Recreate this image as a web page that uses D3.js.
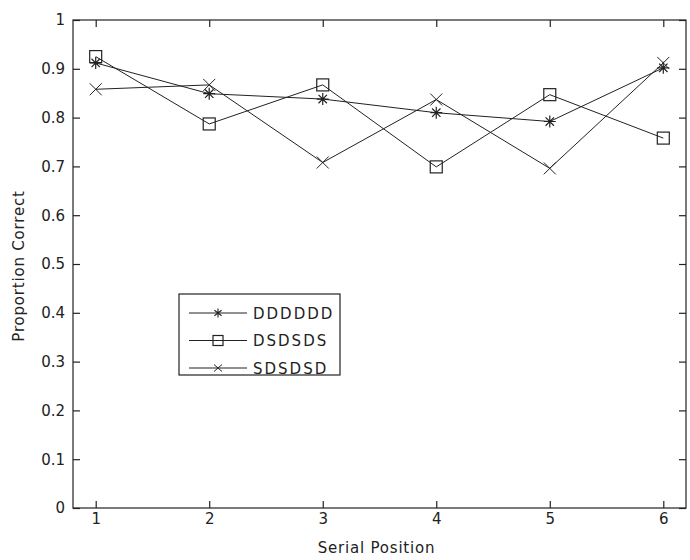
<!DOCTYPE html><html><head><meta charset="utf-8">
<script src="https://cdn.jsdelivr.net/npm/d3@7"></script>
<style>
body { margin: 0; background: #fff; }
text { font-family: "DejaVu Sans", "Liberation Sans", Arial, sans-serif; fill: #222; }
</style>
</head><body>
<div id="chart"></div>
<script>
// data
const positions = [1, 2, 3, 4, 5, 6];
const dddddd = [0.912, 0.849, 0.838, 0.810, 0.792, 0.902];
const dsdsds = [0.925, 0.787, 0.867, 0.699, 0.847, 0.758];
const sdsdsd = [0.858, 0.867, 0.708, 0.837, 0.696, 0.912];
const seriesNames = ["DDDDDD", "DSDSDS", "SDSDSD"];
const markerKinds = ["star", "square", "cross"];
const yTicks = [0, 0.1, 0.2, 0.3, 0.4, 0.5, 0.6, 0.7, 0.8, 0.9, 1];

const W = 690, H = 560;
const margin = { top: 20, right: 4, bottom: 52, left: 73 };
const width = W - margin.left - margin.right;
const height = H - margin.top - margin.bottom;

const svg = d3.select("#chart").append("svg")
	.attr("width", W).attr("height", H)
	.append("g")
	.attr("transform", `translate(${margin.left}, ${margin.top})`);

const x = d3.scaleLinear().domain([0.8, 6.2]).range([0, width]);
const y = d3.scaleLinear().domain([0, 1]).range([height, 0]);

const ink = "#222";

// box
svg.append("rect").attr("width", width).attr("height", height)
	.attr("fill", "none").attr("stroke", ink).attr("stroke-width", 1.2);

// axes, ticks pointing inward
const fmt = d => d === 0 ? "0" : d === 1 ? "1" : d3.format(".1f")(d);
const styleAxis = g => {
	g.select(".domain").remove();
	g.selectAll("line").attr("stroke", ink).attr("stroke-width", 1.2);
	g.selectAll("text").style("font-size", "15px");
};
svg.append("g").attr("transform", `translate(0, ${height})`)
	.call(d3.axisBottom(x).tickValues(positions).tickSizeInner(-7).tickPadding(5).tickFormat(d3.format("d")))
	.call(styleAxis);
svg.append("g")
	.call(d3.axisTop(x).tickValues(positions).tickSizeInner(-7).tickFormat(""))
	.call(styleAxis);
svg.append("g")
	.call(d3.axisLeft(y).tickValues(yTicks).tickSizeInner(-7).tickPadding(8).tickFormat(fmt))
	.call(styleAxis);
svg.append("g").attr("transform", `translate(${width}, 0)`)
	.call(d3.axisRight(y).tickValues(yTicks).tickSizeInner(-7).tickFormat(""))
	.call(styleAxis);

// axis labels
svg.append("text").attr("x", width / 2 - 3).attr("y", height + 45)
	.attr("text-anchor", "middle").style("font-size", "15px").style("letter-spacing", "0.8px")
	.text("Serial Position");
svg.append("text").attr("transform", `translate(-49, ${height / 2 + 2}) rotate(-90)`)
	.attr("text-anchor", "middle").style("font-size", "15px").style("letter-spacing", "0.8px")
	.text("Proportion Correct");

// markers
function drawMarker(g, kind, cx, cy) {
	if (kind === "star") {
		const r = 6;
		g.append("path")
			.attr("d", `M${cx - r},${cy}H${cx + r}M${cx},${cy - r}V${cy + r}` +
				`M${cx - r * 0.7},${cy - r * 0.7}L${cx + r * 0.7},${cy + r * 0.7}` +
				`M${cx - r * 0.7},${cy + r * 0.7}L${cx + r * 0.7},${cy - r * 0.7}`)
			.attr("stroke", ink).attr("stroke-width", 1.2);
	} else if (kind === "square") {
		g.append("rect").attr("x", cx - 6).attr("y", cy - 6).attr("width", 12).attr("height", 12)
			.attr("fill", "none").attr("stroke", ink).attr("stroke-width", 1.2);
	} else {
		const r = 6;
		g.append("path")
			.attr("d", `M${cx - r},${cy - r}L${cx + r},${cy + r}M${cx - r},${cy + r}L${cx + r},${cy - r}`)
			.attr("stroke", ink).attr("stroke-width", 1);
	}
}

const allSeries = [dddddd, dsdsds, sdsdsd];
const line = d3.line().x((d, i) => x(positions[i])).y(d => y(d));
allSeries.forEach((vals, k) => {
	const g = svg.append("g");
	g.append("path").datum(vals).attr("d", line)
		.attr("fill", "none").attr("stroke", ink).attr("stroke-width", 1);
	vals.forEach((v, i) => drawMarker(g, markerKinds[k], x(positions[i]), y(v)));
});

// legend
const lg = svg.append("g").attr("transform", `translate(${179 - margin.left}, ${294 - margin.top})`);
lg.append("rect").attr("width", 161).attr("height", 81)
	.attr("fill", "#fff").attr("stroke", ink).attr("stroke-width", 1.2);
seriesNames.forEach((name, k) => {
	const ry = 19 + k * 27.5;
	lg.append("line").attr("x1", 10).attr("x2", 68).attr("y1", ry).attr("y2", ry)
		.attr("stroke", ink).attr("stroke-width", 1);
	const mg = lg.append("g");
	if (markerKinds[k] === "star") {
		const r = 4.5;
		mg.append("path")
			.attr("d", `M39,${ry - r}V${ry + r}M${39 - r * 0.8},${ry - r * 0.6}L${39 + r * 0.8},${ry + r * 0.6}` +
				`M${39 - r * 0.8},${ry + r * 0.6}L${39 + r * 0.8},${ry - r * 0.6}`)
			.attr("stroke", ink).attr("stroke-width", 1.1);
	} else if (markerKinds[k] === "square") {
		mg.append("rect").attr("x", 34).attr("y", ry - 5).attr("width", 10).attr("height", 10)
			.attr("fill", "none").attr("stroke", ink).attr("stroke-width", 1.2);
	} else {
		mg.append("path").attr("d", `M${35},${ry - 3.5}L${43},${ry + 3.5}M${35},${ry + 3.5}L${43},${ry - 3.5}`)
			.attr("stroke", ink).attr("stroke-width", 1);
	}
	lg.append("text").attr("x", 74).attr("y", ry + 5.5)
		.style("font-size", "15px").style("letter-spacing", "2px").text(name);
});
</script>
</body></html>
